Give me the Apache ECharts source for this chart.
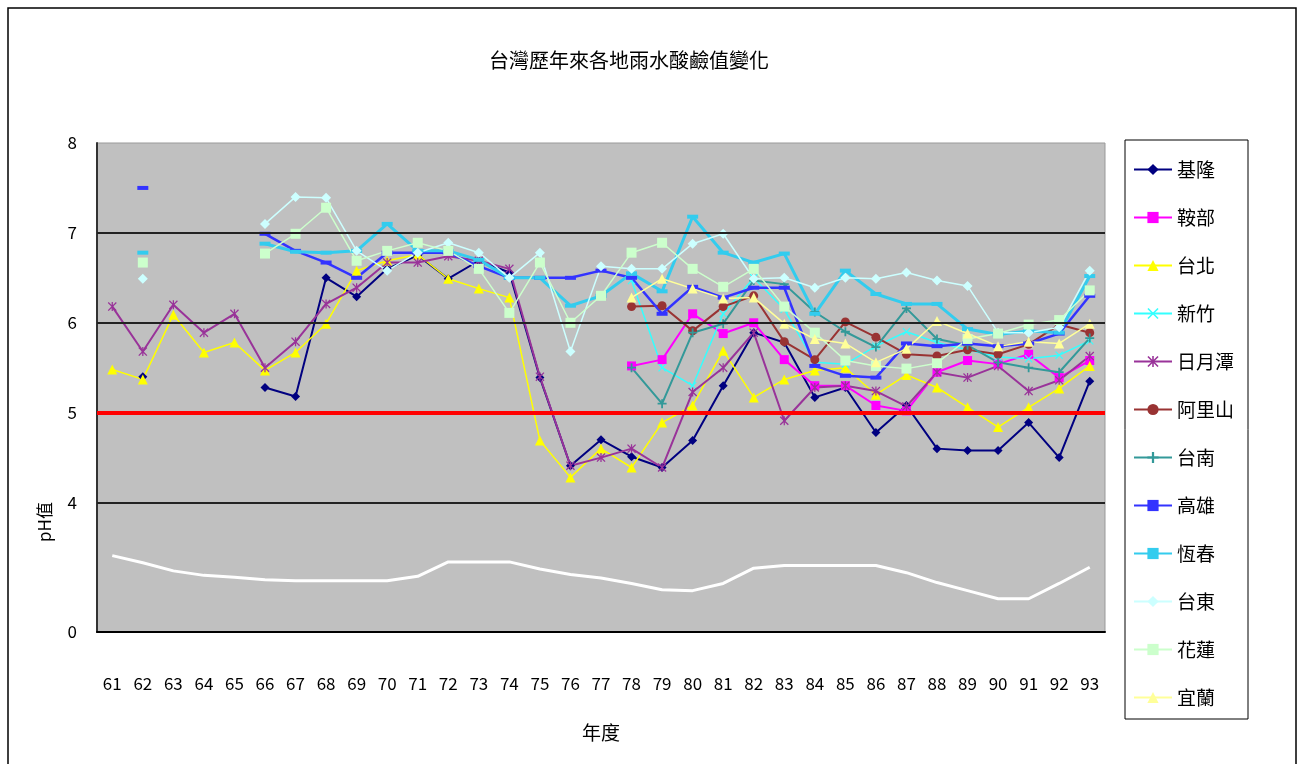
<!DOCTYPE html>
<html>
<head>
<meta charset="utf-8">
<script src="https://cdn.jsdelivr.net/npm/echarts@6/dist/echarts.min.js"></script>
<style>
    html, body { margin: 0; padding: 0; background: #fff; }
    #main { width: 1303px; height: 764px; }
</style>
</head>
<body>
<div id="main"></div>
<script>
    // 年度 (民國)
    var years = ['61', '62', '63', '64', '65', '66', '67', '68', '69', '70', '71',
        '72', '73', '74', '75', '76', '77', '78', '79', '80', '81', '82',
        '83', '84', '85', '86', '87', '88', '89', '90', '91', '92', '93'];

    var stations = ['基隆', '鞍部', '台北', '新竹', '日月潭', '阿里山', '台南', '高雄', '恆春', '台東', '花蓮', '宜蘭'];

    var n = null;
    var keelung = [n, 5.4, n, n, n, 5.28, 5.18, 6.5, 6.29, 6.6, 6.75, 6.49, 6.69, 6.56, 5.39, 4.41, 4.7,
        4.51, 4.39, 4.69, 5.3, 5.89, 5.78, 5.17, 5.28, 4.78, 5.08, 4.6, 4.58, 4.58, 4.89, 4.5, 5.35];
    var anbu = [n, n, n, n, n, n, n, n, n, n, n, n, n, n, n, n, n,
        5.52, 5.59, 6.1, 5.88, 6.0, 5.59, 5.3, 5.3, 5.08, 5.02, 5.45, 5.58, 5.54, 5.65, 5.39, 5.58];
    var taipei = [5.48, 5.37, 6.09, 5.67, 5.78, 5.47, 5.67, 5.99, 6.58, 6.69, 6.76, 6.49, 6.38, 6.28, 4.69, 4.28, 4.6,
        4.39, 4.89, 5.08, 5.69, 5.17, 5.37, 5.47, 5.5, 5.2, 5.42, 5.28, 5.06, 4.84, 5.06, 5.27, 5.52];
    var hsinchu = [n, n, n, n, n, n, n, n, n, n, n, n, n, n, n, n, n,
        6.47, 5.5, 5.3, 6.1, 6.5, 6.15, 5.56, 5.54, 5.74, 5.9, 5.78, 5.7, 5.62, 5.6, 5.64, 5.8];
    var sunMoonLake = [6.18, 5.68, 6.2, 5.89, 6.1, 5.5, 5.79, 6.21, 6.39, 6.67, 6.67, 6.74, 6.69, 6.6, 5.4, 4.41, 4.5,
        4.6, 4.39, 5.23, 5.5, 5.89, 4.91, 5.28, 5.3, 5.24, 5.07, 5.45, 5.39, 5.52, 5.24, 5.36, 5.63];
    var alishan = [n, n, n, n, n, n, n, n, n, n, n, n, n, n, n, n, n,
        6.18, 6.19, 5.91, 6.18, 6.3, 5.79, 5.59, 6.01, 5.84, 5.65, 5.63, 5.7, 5.65, 5.76, 5.98, 5.89];
    var tainan = [n, n, n, n, n, n, n, n, n, n, n, n, n, n, n, n, n,
        5.5, 5.1, 5.89, 5.99, 6.47, 6.43, 6.12, 5.9, 5.73, 6.16, 5.82, 5.75, 5.56, 5.5, 5.45, 5.83];
    var kaohsiung = [n, 7.5, n, n, n, 6.99, 6.8, 6.67, 6.5, 6.78, 6.78, 6.78, 6.63, 6.5, 6.5, 6.5, 6.58,
        6.5, 6.1, 6.4, 6.28, 6.39, 6.39, 5.52, 5.41, 5.39, 5.77, 5.74, 5.77, 5.74, 5.77, 5.88, 6.3];
    var hengchun = [n, 6.78, n, n, n, 6.88, 6.79, 6.78, 6.8, 7.1, 6.8, 6.8, 6.7, 6.5, 6.5, 6.19, 6.3,
        6.55, 6.35, 7.18, 6.78, 6.67, 6.77, 6.1, 6.58, 6.32, 6.21, 6.21, 5.93, 5.87, 5.91, 5.89, 6.52];
    var taitung = [n, 6.49, n, n, n, 7.1, 7.4, 7.39, 6.8, 6.58, 6.78, 6.89, 6.78, 6.5, 6.78, 5.68, 6.63,
        6.6, 6.6, 6.88, 6.99, 6.49, 6.5, 6.39, 6.5, 6.49, 6.56, 6.47, 6.41, 5.89, 5.89, 5.95, 6.58];
    var hualien = [n, 6.67, n, n, n, 6.77, 6.99, 7.28, 6.69, 6.8, 6.89, 6.8, 6.6, 6.11, 6.67, 6.0, 6.3,
        6.78, 6.89, 6.6, 6.4, 6.6, 6.18, 5.89, 5.58, 5.52, 5.49, 5.55, 5.82, 5.88, 5.98, 6.03, 6.36];
    var yilan = [n, n, n, n, n, n, n, n, n, n, n, n, n, n, n, n, n,
        6.28, 6.49, 6.38, 6.27, 6.28, 5.99, 5.82, 5.77, 5.56, 5.71, 6.02, 5.88, 5.74, 5.79, 5.77, 5.99];

    // 座標軸中斷的白色波浪線
    var breakLine = [3.41, 3.33, 3.24, 3.19, 3.17, 3.14, 3.13, 3.13, 3.13, 3.13, 3.18, 3.34, 3.34, 3.34, 3.26, 3.2, 3.16,
        3.1, 3.03, 3.02, 3.1, 3.27, 3.3, 3.3, 3.3, 3.3, 3.22, 3.11, 3.02, 2.93, 2.93, 3.1, 3.28];

    var gridLevels = [4, 6, 7];
    var acidLevel = 5;
    var yLabels = [2.56, 4, 5, 6, 7, 8];

    var font = '"Noto Sans CJK TC", sans-serif';

    var symX = 'path://M0,1L1,0L5,4L9,0L10,1L6,5L10,9L9,10L5,6L1,10L0,9L4,5Z';
    var symStar = 'path://M0,1L1,0L5,4L9,0L10,1L6,5L10,9L9,10L5,6L1,10L0,9L4,5Z M4.3,0H5.7V10H4.3Z';
    var symPlus = 'path://M4,0H6V4H10V6H6V10H4V6H0V4H4Z';
    var symDash = 'path://M0,0H10V3H0Z';

    var seriesData = [keelung, anbu, taipei, hsinchu, sunMoonLake, alishan, tainan, kaohsiung, hengchun, taitung, hualien, yilan];
    var colors = ['#000080', '#ff00ff', '#ffff00', '#33ffff', '#993399', '#993333', '#339999', '#3333ff', '#33ccee', '#ccffff', '#ccffcc', '#ffff99'];
    var symbols = ['diamond', 'rect', 'triangle', symX, symStar, 'circle', symPlus, symDash, symDash, 'diamond', 'rect', 'triangle'];
    var symbolSizes = [9, 9, 10, 8, 9, 9, 9, [11, 4], [11, 4], 10, 10, 10];
    var widths = [2, 2, 1.5, 1.5, 2, 2, 2, 2.5, 3, 1.5, 1.5, 1.5];

    var series = stations.map(function (name, i) {
        return {
            name: name,
            type: 'line',
            data: seriesData[i],
            symbol: symbols[i],
            symbolSize: symbolSizes[i],
            showAllSymbol: true,
            connectNulls: false,
            z: 3,
            itemStyle: {color: colors[i]},
            lineStyle: {color: colors[i], width: widths[i]},
            emphasis: {disabled: true}
        };
    });

    series.unshift({
        name: 'break',
        type: 'line',
        data: breakLine,
        symbol: 'none',
        silent: true,
        z: 2,
        lineStyle: {color: '#ffffff', width: 3},
        markLine: {
            silent: true,
            symbol: 'none',
            label: {show: false},
            data: gridLevels.map(function (v) {
                return {yAxis: v, lineStyle: {color: '#222', width: 2, type: 'solid'}};
            }).concat([{yAxis: acidLevel, lineStyle: {color: '#ff0000', width: 4, type: 'solid'}}])
        }
    });

    var myChart = echarts.init(document.getElementById('main'));
    var option = {
        animation: false,
        backgroundColor: '#ffffff',
        title: {
            text: '台灣歷年來各地雨水酸鹼值變化',
            left: 484,
            top: 45,
            textStyle: {
                color: '#000',
                fontSize: 20,
                fontWeight: 'normal',
                fontFamily: font
            }
        },
        legend: {
            data: stations,
            orient: 'vertical',
            left: 1125,
            top: 140,
            padding: [20, 14, 12, 8],
            itemGap: 29,
            itemWidth: 38,
            itemHeight: 14,
            borderColor: '#000',
            borderWidth: 1,
            backgroundColor: '#fff',
            textStyle: {
                color: '#000',
                fontSize: 19,
                fontFamily: font
            }
        },
        grid: {
            left: 97,
            right: 198,
            top: 143,
            bottom: 132,
            show: true,
            backgroundColor: '#c0c0c0',
            borderColor: '#999',
            borderWidth: 1
        },
        xAxis: {
            type: 'category',
            data: years,
            boundaryGap: true,
            name: '年度',
            nameLocation: 'middle',
            nameGap: 91,
            nameTextStyle: {color: '#000', fontSize: 19, fontFamily: font},
            axisLine: {lineStyle: {color: '#000', width: 2}},
            axisTick: {inside: true, length: 6, lineStyle: {color: '#000'}},
            axisLabel: {
                color: '#000',
                fontSize: 17,
                fontFamily: font,
                margin: 43,
                interval: 0
            },
            splitLine: {show: false}
        },
        yAxis: {
            type: 'value',
            min: 2.56,
            max: 8,
            axisLine: {show: true, lineStyle: {color: '#333', width: 2}},
            axisTick: {show: false},
            axisLabel: {
                customValues: yLabels,
                color: '#000',
                fontSize: 17,
                fontFamily: font,
                margin: 20,
                formatter: function (v) {
                    return v < 3 ? '0' : String(Math.round(v));
                }
            },
            splitLine: {show: false}
        },
        graphic: [
            {
                type: 'text',
                left: 36,
                top: 502,
                rotation: Math.PI / 2,
                style: {
                    text: 'pH值',
                    fill: '#000',
                    font: '17px ' + font
                }
            },
            {
                type: 'rect',
                shape: {x: 8, y: 8, width: 1288, height: 780},
                style: {fill: 'none', stroke: '#000', lineWidth: 1.5},
                silent: true
            }
        ],
        series: series
    };
    myChart.setOption(option);
</script>
</body>
</html>
